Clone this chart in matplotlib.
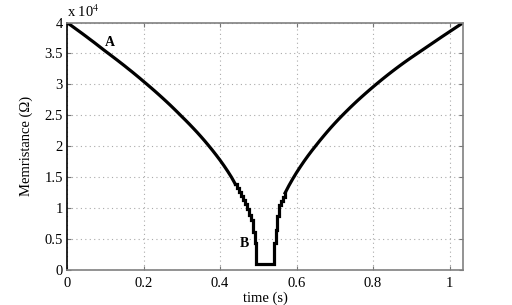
import matplotlib
matplotlib.use("Agg")
import matplotlib.pyplot as plt

plt.rcParams['font.family'] = ['Liberation Serif', 'DejaVu Serif']
plt.rcParams['mathtext.fontset'] = 'stix'

# memristance in units of 1e4 ohm, time in s
# falling branch, smooth part
t_fall = [0.00, 0.01, 0.02, 0.03, 0.04, 0.05, 0.06, 0.07, 0.08, 0.09,
          0.10, 0.11, 0.12, 0.13, 0.14, 0.15, 0.16, 0.17, 0.18, 0.19,
          0.20, 0.21, 0.22, 0.23, 0.24, 0.25, 0.26, 0.27, 0.28, 0.29,
          0.30, 0.31, 0.32, 0.33, 0.34, 0.35, 0.36, 0.37, 0.38, 0.39,
          0.40, 0.41, 0.42, 0.43, 0.44]
m_fall = [4.000, 3.956, 3.911, 3.866, 3.821, 3.775, 3.728, 3.682, 3.634, 3.586,
          3.538, 3.492, 3.445, 3.398, 3.350, 3.302, 3.252, 3.203, 3.152, 3.101,
          3.048, 2.996, 2.943, 2.889, 2.834, 2.778, 2.721, 2.663, 2.603, 2.542,
          2.480, 2.419, 2.356, 2.291, 2.225, 2.156, 2.085, 2.011, 1.935, 1.856,
          1.774, 1.687, 1.595, 1.497, 1.386]

# sampled steps around the minimum
t_step = [0.440, 0.445, 0.450, 0.455, 0.460, 0.465, 0.470, 0.475, 0.480,
          0.485, 0.490, 0.495, 0.535, 0.540, 0.545, 0.550, 0.555, 0.560,
          0.565, 0.570]
m_step = [1.386, 1.327, 1.265, 1.200, 1.131, 1.058, 0.980, 0.894, 0.800,
          0.620, 0.430, 0.100, 0.100, 0.430, 0.650, 0.880, 1.042, 1.114,
          1.181, 1.245]

# rising branch, smooth part
t_rise = [0.57, 0.58, 0.59, 0.60, 0.61, 0.62, 0.63, 0.64, 0.65, 0.66,
          0.67, 0.68, 0.69, 0.70, 0.71, 0.72, 0.73, 0.74, 0.75, 0.76,
          0.77, 0.78, 0.79, 0.80, 0.81, 0.82, 0.83, 0.84, 0.85, 0.86,
          0.87, 0.88, 0.89, 0.90, 0.91, 0.92, 0.93, 0.94, 0.95, 0.96,
          0.97, 0.98, 0.99, 1.00, 1.01, 1.02, 1.03, 1.036]
m_rise = [1.245, 1.364, 1.473, 1.575, 1.670, 1.761, 1.847, 1.929, 2.007, 2.085,
          2.160, 2.233, 2.304, 2.372, 2.438, 2.502, 2.564, 2.625, 2.684, 2.742,
          2.798, 2.853, 2.907, 2.960, 3.012, 3.063, 3.113, 3.162, 3.210, 3.257,
          3.303, 3.348, 3.392, 3.435, 3.477, 3.519, 3.561, 3.603, 3.645, 3.687,
          3.729, 3.771, 3.812, 3.853, 3.894, 3.935, 3.976, 4.000]

scale = 1e4

xticks = [0, 0.2, 0.4, 0.6, 0.8, 1]
xticklabels = ['0', '0.2', '0.4', '0.6', '0.8', '1']
yticks = [0, 5000, 10000, 15000, 20000, 25000, 30000, 35000, 40000]
yticklabels = ['0', '0.5', '1', '1.5', '2', '2.5', '3', '3.5', '4']

fig = plt.figure(figsize=(5.12, 3.05), dpi=100)
ax = fig.add_axes([0.131, 0.115, 0.774, 0.811])

lw = 2.3
ax.plot(t_fall, [v * scale for v in m_fall], color='black', lw=lw)
ax.plot(t_step, [v * scale for v in m_step], color='black', lw=lw,
        drawstyle='steps-post', solid_joinstyle='miter')
ax.plot(t_rise, [v * scale for v in m_rise], color='black', lw=lw)

ax.set_xlim(0, 1.036)
ax.set_ylim(0, 40000)
ax.set_xticks(xticks)
ax.set_xticklabels(xticklabels)
ax.set_yticks(yticks)
ax.set_yticklabels(yticklabels)
ax.tick_params(direction='in', top=True, right=True, labelsize=10.5,
               length=3, color='#777777', pad=3)
ax.tick_params(axis='x', pad=5)

ax.grid(True, color='#aaaaaa', linestyle=(0, (1, 3)), linewidth=0.8)
for side in ['top', 'right', 'bottom']:
    ax.spines[side].set_color('#808080')
ax.spines['left'].set_color('black')
for s in ax.spines.values():
    s.set_linewidth(1.2)

ax.text(0.0, 1.012, r'x 10$^4$', transform=ax.transAxes, fontsize=10.5,
        ha='left', va='bottom')
ax.text(0.112, 35800, 'A', fontsize=10, fontweight='bold', ha='center', va='bottom')
ax.text(0.463, 4200, 'B', fontsize=10, fontweight='bold', ha='center', va='center')

ax.set_xlabel('time (s)', fontsize=10.5, labelpad=1)
ax.set_ylabel('Memristance (\u03a9)', fontsize=10.5, labelpad=8)

fig.savefig('out.png', dpi=100)
